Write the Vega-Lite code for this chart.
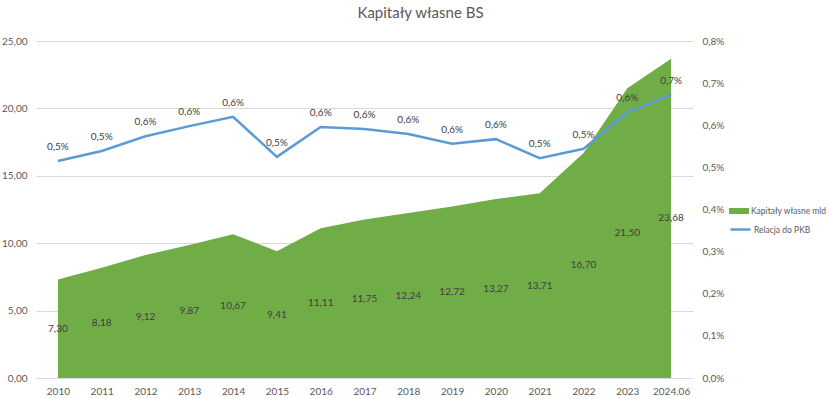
{
  "$schema": "https://vega.github.io/schema/vega-lite/v6.json",
  "width": 657,
  "height": 337,
  "autosize": {"type": "none"},
  "padding": {"left": 36, "top": 41, "right": 137, "bottom": 21},
  "background": "white",
  "config": {
    "locale": {"number": {"decimal": ",", "thousands": " ", "grouping": [3], "currency": ["", " zł"]}},
    "font": "Lato",
    "view": {"stroke": null},
    "axis": {"labelColor": "#595959", "labelFont": "Lato", "labelFontSize": 10, "ticks": false, "domain": false, "title": null}
  },
  "title": {"text": "Kapitały własne BS", "anchor": "middle", "frame": "group", "dx": 56, "offset": 15, "fontSize": 15, "font": "Lato", "fontWeight": "normal", "color": "#595959"},
  "data": {"values": [
    {"year": "2010", "kap": 7.30, "rel": 0.00515},
    {"year": "2011", "kap": 8.18, "rel": 0.00539},
    {"year": "2012", "kap": 9.12, "rel": 0.00574},
    {"year": "2013", "kap": 9.87, "rel": 0.00598},
    {"year": "2014", "kap": 10.67, "rel": 0.00620},
    {"year": "2015", "kap": 9.41, "rel": 0.00525},
    {"year": "2016", "kap": 11.11, "rel": 0.00596},
    {"year": "2017", "kap": 11.75, "rel": 0.00591},
    {"year": "2018", "kap": 12.24, "rel": 0.00579},
    {"year": "2019", "kap": 12.72, "rel": 0.00556},
    {"year": "2020", "kap": 13.27, "rel": 0.00567},
    {"year": "2021", "kap": 13.71, "rel": 0.00522},
    {"year": "2022", "kap": 16.70, "rel": 0.00544},
    {"year": "2023", "kap": 21.50, "rel": 0.00631},
    {"year": "2024.06", "kap": 23.68, "rel": 0.00672}
  ]},
  "encoding": {
    "x": {"field": "year", "type": "ordinal", "sort": null, "scale": {"type": "point", "padding": 0.5},
      "axis": {"labelAngle": 0, "labelPadding": 8, "domain": true, "domainColor": "#d9d9d9", "grid": false}}
  },
  "layer": [
    {
      "mark": {"type": "area", "color": "#70AD47"},
      "encoding": {
        "y": {"field": "kap", "type": "quantitative", "scale": {"domain": [0, 25], "nice": false},
          "axis": {"orient": "left", "values": [0, 5, 10, 15, 20, 25], "format": ".2f", "grid": true, "gridColor": "#d9d9d9", "labelPadding": 9}},
        "color": {"datum": "Kapitały własne mld", "scale": {"range": ["#70AD47"]},
          "legend": {"title": null, "orient": "none", "legendX": 693, "legendY": 160, "symbolType": "M-1,-0.3H1V0.3H-1Z", "symbolSize": 400, "symbolStrokeWidth": 0, "labelFontSize": 8.5, "labelColor": "#595959", "labelFont": "Lato", "labelOffset": 2, "labelLimit": 200, "padding": 0}}
      }
    },
    {
      "mark": {"type": "text", "color": "#404040", "fontSize": 10, "font": "Lato"},
      "encoding": {
        "y": {"field": "kap", "type": "quantitative", "scale": {"domain": [0, 50], "nice": false}, "axis": null},
        "text": {"field": "kap", "type": "quantitative", "format": ".2f"}
      }
    },
    {
      "encoding": {
        "y": {"field": "rel", "type": "quantitative", "scale": {"domain": [0, 0.008], "nice": false},
          "axis": {"orient": "right", "values": [0, 0.001, 0.002, 0.003, 0.004, 0.005, 0.006, 0.007, 0.008], "format": ".1%", "grid": false, "labelPadding": 9}}
      },
      "layer": [
        {
          "mark": {"type": "line", "color": "#5B9BD5", "strokeWidth": 2.5},
          "encoding": {
            "color": {"datum": "Relacja do PKB", "scale": {"range": ["#5B9BD5"]},
              "legend": {"title": null, "orient": "none", "legendX": 693, "legendY": 177, "symbolType": "stroke", "symbolSize": 400, "symbolStrokeWidth": 2.5, "labelFontSize": 8.5, "labelColor": "#595959", "labelFont": "Lato", "labelOffset": 2, "padding": 0}}
          }
        },
        {
          "mark": {"type": "text", "color": "#404040", "fontSize": 10, "font": "Lato", "dy": -14},
          "encoding": {
            "text": {"field": "rel", "type": "quantitative", "format": ".1%"}
          }
        }
      ]
    }
  ],
  "resolve": {"scale": {"y": "independent", "color": "independent"}}
}
